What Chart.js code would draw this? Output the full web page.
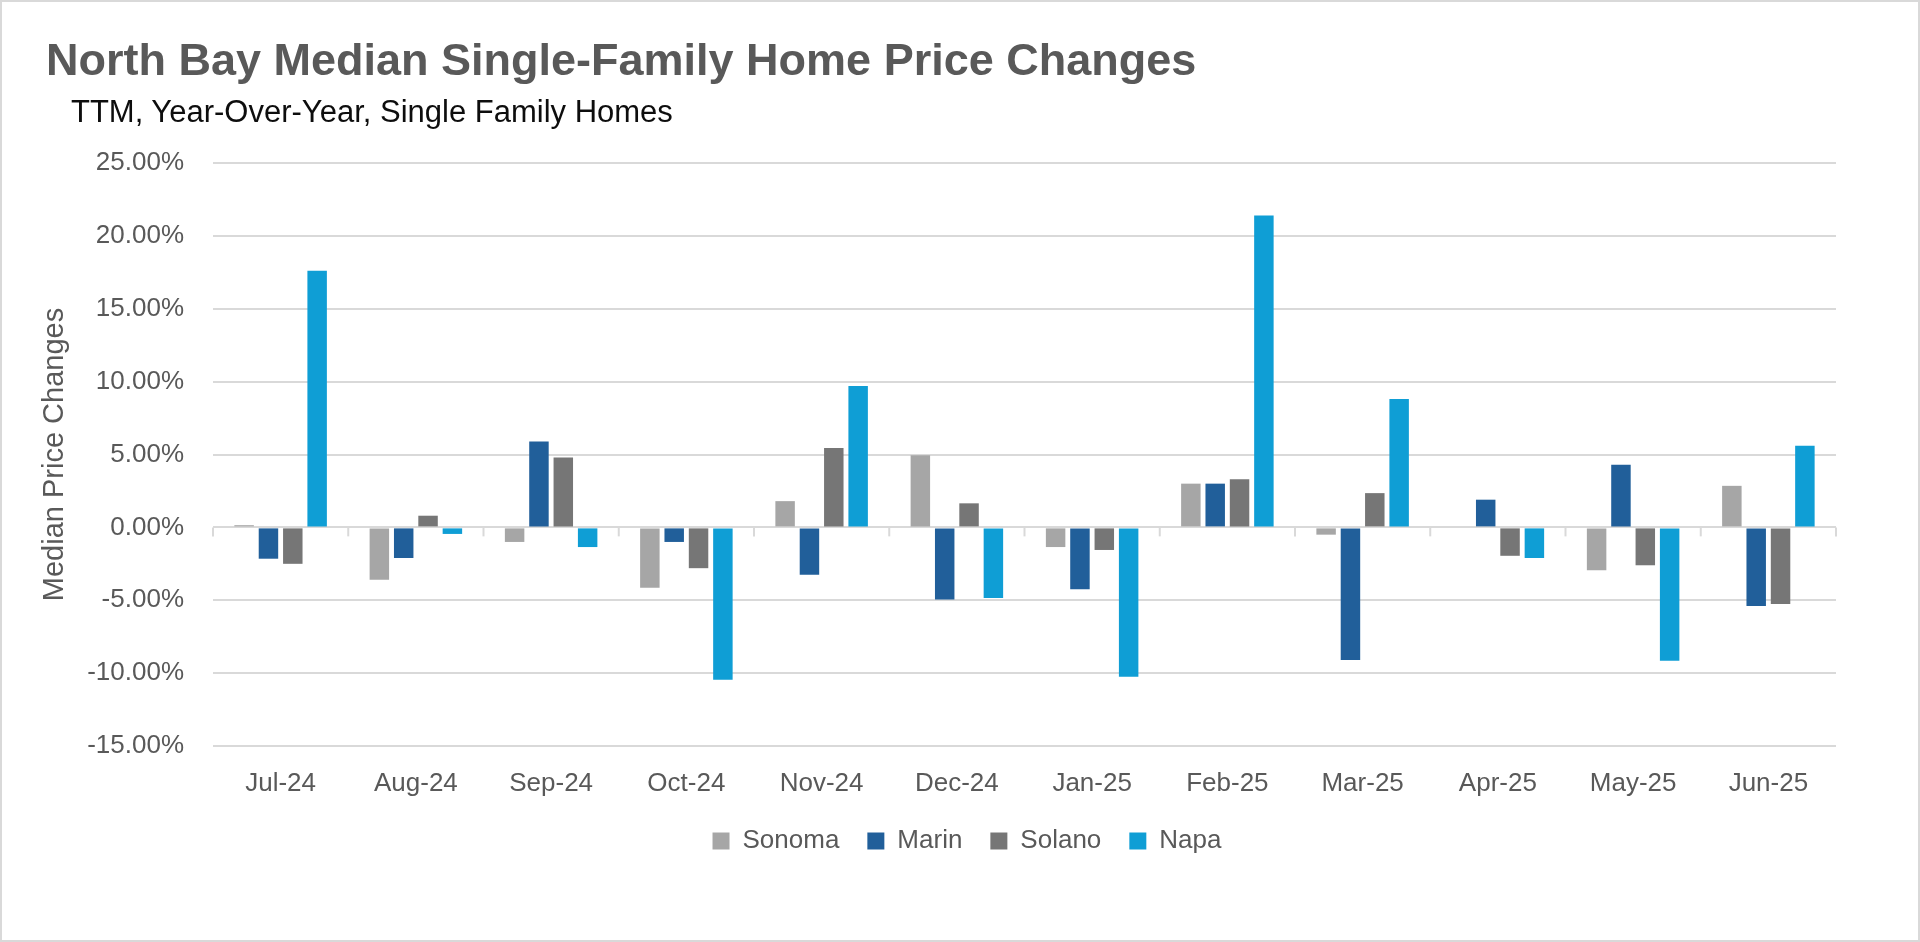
<!DOCTYPE html>
<html>
<head>
<meta charset="utf-8">
<script src="https://cdn.jsdelivr.net/npm/chart.js@4.4.1/dist/chart.umd.min.js"></script>
<style>
  html, body { margin: 0; padding: 0; background: #fff; }
  #wrap { position: relative; width: 1920px; height: 942px; overflow: hidden; }
  #frame { position: absolute; left: 0; top: 0; right: 0; bottom: 0; border: 2px solid #d9d9d9; pointer-events: none; }
  #title { position: absolute; left: 46px; top: 37px; margin: 0; font: bold 45px "Liberation Sans", Arial, sans-serif; line-height: 1; color: #595959; white-space: nowrap; }
  #subtitle { position: absolute; left: 71px; top: 96px; margin: 0; font: 31px "Liberation Sans", Arial, sans-serif; line-height: 1; color: #0d0d0d; white-space: nowrap; }
  canvas { position: absolute; left: 0; top: 0; }
</style>
</head>
<body>
<div id="wrap">
  <canvas id="priceChart" width="1920" height="942"></canvas>
  <h1 id="title">North Bay Median Single-Family Home Price Changes</h1>
  <div id="subtitle">TTM, Year-Over-Year, Single Family Homes</div>
  <div id="frame"></div>
</div>
<script>
// month labels and year-over-year % changes per county
const months = ['Jul-24', 'Aug-24', 'Sep-24', 'Oct-24', 'Nov-24', 'Dec-24',
                'Jan-25', 'Feb-25', 'Mar-25', 'Apr-25', 'May-25', 'Jun-25'];
const sonoma = [0.15, -3.6, -1.0, -4.15, 1.8, 4.95, -1.35, 3.0, -0.5, 0, -2.95, 2.85];
const marin  = [-2.15, -2.1, 5.9, -1.0, -3.25, -4.95, -4.25, 3.0, -9.1, 1.9, 4.3, -5.4];
const solano = [-2.5, 0.8, 4.8, -2.8, 5.45, 1.65, -1.55, 3.3, 2.35, -1.95, -2.6, -5.25];
const napa   = [17.6, -0.45, -1.35, -10.45, 9.7, -4.85, -10.25, 21.4, 8.8, -2.1, -9.15, 5.6];

const FONT = '"Liberation Sans", Arial, sans-serif';
const TEXT = '#595959';
const GRID = '#d9d9d9';

// little tick marks hanging under the zero line at category boundaries
const zeroTicks = {
    id: 'zeroTicks',
    beforeDatasetsDraw(chart) {
        const { ctx, scales: { x, y } } = chart;
        const y0 = y.getPixelForValue(0);
        ctx.save();
        ctx.strokeStyle = GRID;
        ctx.lineWidth = 2;
        for (let i = 0; i <= months.length; i++) {
            const px = x.getPixelForValue(i - 0.5);
            ctx.beginPath();
            ctx.moveTo(px, y0);
            ctx.lineTo(px, y0 + 9);
            ctx.stroke();
        }
        ctx.restore();
    }
};

const ctx = document.getElementById('priceChart').getContext('2d');

const priceChart = new Chart(ctx, {
    type: 'bar',
    data: {
        labels: months,
        datasets: [
            { label: 'Sonoma', data: sonoma, backgroundColor: '#a6a6a6' },
            { label: 'Marin',  data: marin,  backgroundColor: '#215f9a' },
            { label: 'Solano', data: solano, backgroundColor: '#767676' },
            { label: 'Napa',   data: napa,   backgroundColor: '#0f9ed5' }
        ]
    },
    options: {
        responsive: false,
        animation: false,
        devicePixelRatio: 1,
        categoryPercentage: 0.72,
        barPercentage: 0.8,
        layout: { padding: { top: 163, left: 14, right: 0, bottom: 78 } },
        plugins: {
            legend: {
                position: 'bottom',
                labels: {
                    font: { family: FONT, size: 26 },
                    color: TEXT,
                    boxWidth: 17,
                    boxHeight: 17,
                    padding: 28
                }
            },
            tooltip: { enabled: false }
        },
        scales: {
            x: {
                grid: { display: false, drawTicks: false },
                border: { display: false },
                ticks: { font: { family: FONT, size: 26 }, color: TEXT, padding: 22 },
                afterFit(scale) { scale.height = 54; }
            },
            y: {
                min: -15,
                max: 25,
                ticks: {
                    stepSize: 5,
                    font: { family: FONT, size: 26 },
                    color: TEXT,
                    padding: 29,
                    callback: v => v.toFixed(2) + '%'
                },
                grid: { color: GRID, lineWidth: 2, drawTicks: false },
                border: { display: false },
                title: {
                    display: true,
                    text: 'Median Price Changes',
                    font: { family: FONT, size: 29 },
                    color: TEXT,
                    padding: { top: 24, bottom: 0 }
                },
                afterFit(scale) { scale.width = 199; }
            },
            // empty right-hand box that keeps the plot off the right edge
            spacer: {
                type: 'linear',
                position: 'right',
                display: true,
                grid: { display: false, drawTicks: false },
                border: { display: false },
                ticks: { display: false },
                afterFit(scale) { scale.width = 84; }
            }
        }
    },
    plugins: [zeroTicks]
});
</script>
</body>
</html>
